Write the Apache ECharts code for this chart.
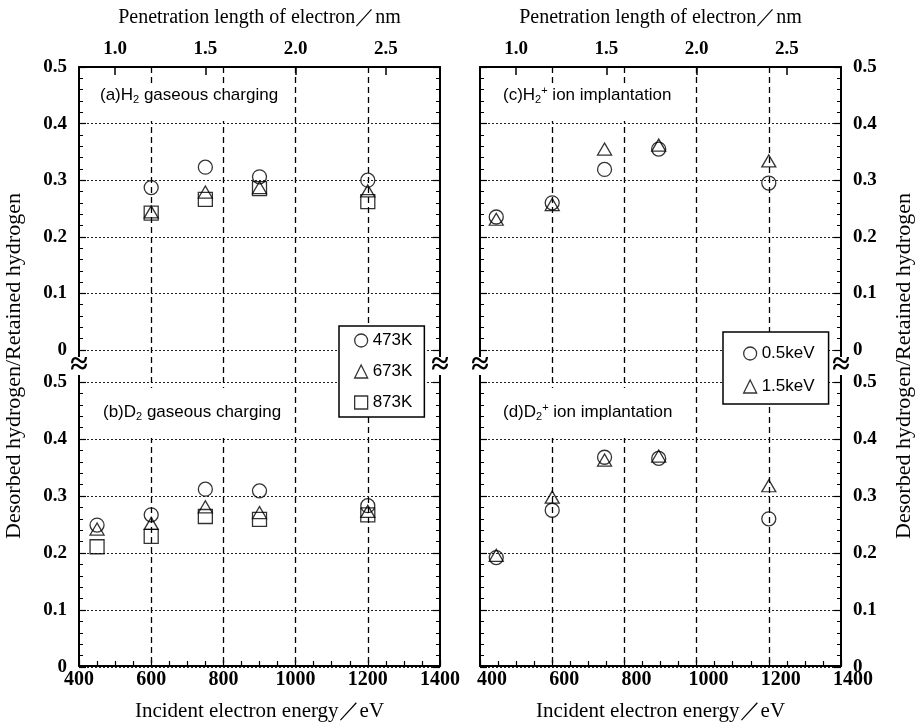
<!DOCTYPE html>
<html>
<head>
<meta charset="utf-8">
<script src="https://cdn.jsdelivr.net/npm/echarts@6.0.0/dist/echarts.min.js"></script>
<style>
  html, body { margin: 0; padding: 0; background: #fff; }
  #chart { width: 916px; height: 727px; }
</style>
</head>
<body>
<div id="chart"></div>
<script>
// energies (eV) of the measured points
var energyA = [600, 750, 900, 1200];
var energyB = [450, 600, 750, 900, 1200];
var energyCD = [445, 600, 745, 895, 1200];

// (a) H2 gaseous charging
var a473 = [0.287, 0.323, 0.306, 0.300];
var a673 = [0.244, 0.279, 0.287, 0.281];
var a873 = [0.242, 0.266, 0.285, 0.262];

// (b) D2 gaseous charging
var b473 = [0.249, 0.267, 0.312, 0.309, 0.283];
var b673 = [0.242, 0.252, 0.281, 0.271, 0.273];
var b873 = [0.211, 0.229, 0.264, 0.259, 0.267];

// (c) H2+ ion implantation
var c05 = [0.235, 0.260, 0.319, 0.355, 0.295];
var c15 = [0.231, 0.257, 0.355, 0.362, 0.334];

// (d) D2+ ion implantation
var d05 = [0.192, 0.275, 0.368, 0.366, 0.260];
var d15 = [0.196, 0.298, 0.363, 0.370, 0.318];

var penTicks = [1.0, 1.5, 2.0, 2.5];
var tempNames = ['473K', '673K', '873K'];
var ionNames = ['0.5keV', '1.5keV'];

var serif = '"Liberation Serif", "Times New Roman", serif';
var sans = '"Liberation Sans", Arial, sans-serif';

var chart = echarts.init(document.getElementById('chart'));

function pairs(xs, ys) {
  return xs.map(function (x, i) { return [x, ys[i]]; });
}

function energyAxis(gi, shift) {
  return {
    type: 'value', gridIndex: gi, position: 'bottom', min: 400, max: 1400, interval: 200,
    axisLine: { onZero: false, lineStyle: { color: '#000', width: 2 } },
    axisTick: { inside: true, length: 6, lineStyle: { color: '#000', width: 1.2 } },
    minorTick: { show: true, splitNumber: 4, length: 5, lineStyle: { color: '#000', width: 1.2 } },
    splitLine: { show: true, showMinLine: false, showMaxLine: false,
      lineStyle: { color: '#000', width: 1.3, type: [6, 4] } },
    axisLabel: { color: '#000', fontFamily: serif, fontWeight: 'bold', fontSize: 20, margin: 4,
      padding: [0, 0, 0, shift], formatter: function (v) { return String(v); } },
    name: 'Incident electron energy／eV', nameLocation: 'middle', nameGap: 35,
    nameTextStyle: { color: '#000', fontFamily: serif, fontSize: 21 }
  };
}

function penAxis(gi) {
  return {
    type: 'value', gridIndex: gi, position: 'top', min: 0.8, max: 2.8,
    axisLine: { onZero: false, lineStyle: { color: '#000', width: 2 } },
    axisTick: { inside: true, length: 8, customValues: penTicks, lineStyle: { color: '#000', width: 1.5 } },
    axisLabel: { customValues: penTicks, formatter: function (v) { return v.toFixed(1); },
      color: '#000', fontFamily: serif, fontWeight: 'bold', fontSize: 19, margin: 8 },
    splitLine: { show: false },
    name: 'Penetration length of electron／nm', nameLocation: 'middle', nameGap: 39,
    nameTextStyle: { color: '#000', fontFamily: serif, fontSize: 20 }
  };
}

function hiddenX(gi) {
  return { type: 'value', gridIndex: gi, min: 400, max: 1400, show: false };
}

function frameY(gi, pos) {
  return {
    type: 'value', gridIndex: gi, position: pos, min: 0, max: 1,
    axisLine: { show: true, onZero: false, lineStyle: { color: '#000', width: 2 } },
    axisTick: { show: false }, axisLabel: { show: false }, splitLine: { show: false }
  };
}

function panelY(gi, pos, labels, split) {
  return {
    type: 'value', gridIndex: gi, position: pos, min: 0, max: 0.5, interval: 0.1,
    axisLine: { show: false },
    axisTick: { show: true, inside: true, length: 7, lineStyle: { color: '#000', width: 1.2 } },
    minorTick: { show: true, splitNumber: 5, length: 4, lineStyle: { color: '#000', width: 1 } },
    axisLabel: { show: labels, color: '#000', fontFamily: serif, fontWeight: 'bold', fontSize: 19, margin: 12 },
    splitLine: { show: split, lineStyle: { color: '#222', width: 1, type: [2, 2] } }
  };
}

function scatter(name, xi, yi, data, symbol, size) {
  return {
    type: 'scatter', name: name, xAxisIndex: xi, yAxisIndex: yi, data: data,
    symbol: symbol, symbolSize: size,
    itemStyle: { color: 'transparent', borderColor: '#000', borderWidth: 1.3 },
    emphasis: { disabled: true }
  };
}

function panelLabel(x, y, text) {
  return {
    type: 'text', x: x, y: y, z: 21,
    style: {
      text: text, fill: '#000', fontFamily: sans, fontSize: 17, lineHeight: 20,
      align: 'left', verticalAlign: 'middle',
      rich: {
        sub: { fontFamily: sans, fontSize: 11, lineHeight: 10, verticalAlign: 'bottom', fill: '#000' },
        sup: { fontFamily: sans, fontSize: 11, lineHeight: 10, verticalAlign: 'top', fill: '#000' }
      }
    }
  };
}

function whiteBox(x, y, w, h) {
  return { type: 'rect', z: 20, shape: { x: x, y: y, width: w, height: h }, style: { fill: '#fff' } };
}

function breakMark(x) {
  return [
    whiteBox(x - 4, 357, 8, 18),
    { type: 'text', x: x, y: 366, z: 22,
      style: { text: '≈', fill: '#000', fontFamily: serif, fontWeight: 'bold', fontSize: 32,
        align: 'center', verticalAlign: 'middle' } }
  ];
}

function yTitle(x) {
  return {
    type: 'text', x: x, y: 366, rotation: Math.PI / 2, z: 22,
    style: { text: 'Desorbed hydrogen/Retained hydrogen', fill: '#000', fontFamily: serif, fontSize: 22,
      align: 'center', verticalAlign: 'middle' }
  };
}

function legendBox(names, icons, left, top, gap, pad) {
  return {
    data: names.map(function (n, i) { return { name: n, icon: icons[i] }; }),
    left: left, top: top, orient: 'vertical', itemWidth: 13, itemHeight: 13, itemGap: gap,
    padding: pad, borderColor: '#000', borderWidth: 1.5, backgroundColor: '#fff',
    selectedMode: false, z: 15,
    itemStyle: { color: 'transparent', borderColor: '#000', borderWidth: 1.3 },
    textStyle: { color: '#000', fontFamily: sans, fontSize: 17 }
  };
}

var graphics = [
  yTitle(14), yTitle(904),
  whiteBox(90, 84, 198, 37), whiteBox(92, 388, 196, 50),
  whiteBox(495, 84, 187, 37), whiteBox(495, 388, 187, 50),
  panelLabel(100, 95, '(a)H{sub|2} gaseous charging'),
  panelLabel(103, 412, '(b)D{sub|2} gaseous charging'),
  panelLabel(503, 95, '(c)H{sub|2}{sup|+} ion implantation'),
  panelLabel(503, 412, '(d)D{sub|2}{sup|+} ion implantation')
].concat(breakMark(79), breakMark(440), breakMark(480), breakMark(841));

chart.setOption({
  backgroundColor: '#fff',
  animation: false,
  grid: [
    { left: 79, top: 67, width: 361, height: 600 },
    { left: 480, top: 67, width: 361, height: 600 },
    { left: 79, top: 67, width: 361, height: 283 },
    { left: 79, top: 382, width: 361, height: 285 },
    { left: 480, top: 67, width: 361, height: 283 },
    { left: 480, top: 382, width: 361, height: 285 }
  ],
  xAxis: [
    energyAxis(0, 0), penAxis(0),
    energyAxis(1, 24), penAxis(1),
    hiddenX(2), hiddenX(3), hiddenX(4), hiddenX(5)
  ],
  yAxis: [
    frameY(0, 'left'), frameY(0, 'right'),
    frameY(1, 'left'), frameY(1, 'right'),
    panelY(2, 'left', true, true), panelY(2, 'right', false, false),
    panelY(3, 'left', true, true), panelY(3, 'right', false, false),
    panelY(4, 'left', false, true), panelY(4, 'right', true, false),
    panelY(5, 'left', false, true), panelY(5, 'right', true, false)
  ],
  legend: [
    legendBox(tempNames, ['circle', 'triangle', 'rect'], 339, 326, 14, [6, 12, 6, 15]),
    legendBox(ionNames, ['circle', 'triangle'], 723, 332, 16, [13, 14, 9, 20])
  ],
  series: [
    scatter(tempNames[0], 4, 4, pairs(energyA, a473), 'circle', 14),
    scatter(tempNames[1], 4, 4, pairs(energyA, a673), 'triangle', [14, 12]),
    scatter(tempNames[2], 4, 4, pairs(energyA, a873), 'rect', 14),
    scatter(tempNames[0], 5, 6, pairs(energyB, b473), 'circle', 14),
    scatter(tempNames[1], 5, 6, pairs(energyB, b673), 'triangle', [14, 12]),
    scatter(tempNames[2], 5, 6, pairs(energyB, b873), 'rect', 14),
    scatter(ionNames[0], 6, 8, pairs(energyCD, c05), 'circle', 14),
    scatter(ionNames[1], 6, 8, pairs(energyCD, c15), 'triangle', [14, 12]),
    scatter(ionNames[0], 7, 10, pairs(energyCD, d05), 'circle', 14),
    scatter(ionNames[1], 7, 10, pairs(energyCD, d15), 'triangle', [14, 12])
  ],
  graphic: { elements: graphics }
});
</script>
</body>
</html>
